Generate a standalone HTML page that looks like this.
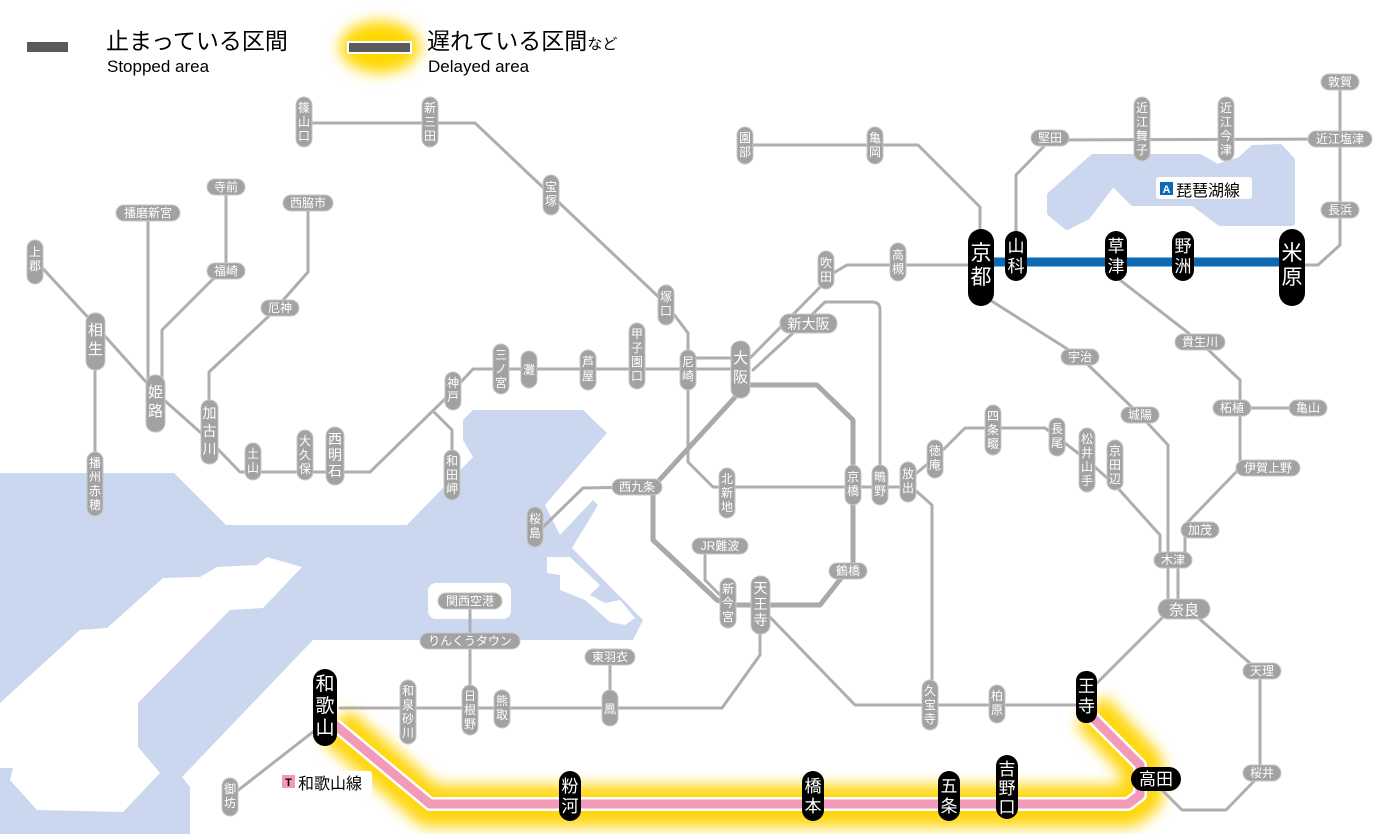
<!DOCTYPE html>
<html><head><meta charset="utf-8"><style>
html,body{margin:0;padding:0;background:#fff;}
svg{display:block;font-family:"Liberation Sans","Noto Sans CJK JP",sans-serif;}
.l{fill:none;stroke:#b0acb0;stroke-width:3;stroke-linejoin:round;stroke-linecap:round}
.lt{fill:none;stroke:#aaa8ac;stroke-width:5;stroke-linejoin:round}
.p{fill:#a2a2a2;stroke:#c8c8c8;stroke-width:1}
.t{fill:#fff;font-size:12px;text-anchor:middle}
.tb{fill:#fff;font-size:15px;text-anchor:middle}
.k{fill:#000}
.kt{fill:#fff;font-size:19px;text-anchor:middle}
</style></head><body>
<svg width="1400" height="834" viewBox="0 0 1400 834" xmlns="http://www.w3.org/2000/svg">
<defs>
<filter id="bl" x="-20%" y="-50%" width="140%" height="200%"><feGaussianBlur stdDeviation="7"/></filter>
<filter id="bl2" x="-100%" y="-100%" width="300%" height="300%"><feGaussianBlur stdDeviation="7"/></filter>
</defs>
<!-- water -->
<path fill="#cbd7ee" d="M0,473 L174,473 L226,525 L407,525 L473,457 L463,440 L463,420 L473,410 L583,410 L607,433 L545,505 L560,535 L593,500 L598,505 L572,548 L643,620 L633,640 L313,640 L182,777 L190,787 L190,834 L0,834 Z"/>
<path fill="#cbd7ee" d="M1050,213 L1050,195 L1093,157 L1200,157 L1217,167 L1240,160 L1253,148 L1280,147 L1292,160 L1292,223 L1220,223 L1193,203 L1133,203 L1113,183 L1087,217 L1067,227 Z" stroke="#cbd7ee" stroke-width="6" stroke-linejoin="round"/>
<!-- awaji -->
<path fill="#fff" d="M302,567 L267,557 L257,565 L217,567 L200,577 L163,578 L107,628 L80,630 L0,703 L0,768 L13,768 L10,780 L37,810 L123,812 L160,773 L138,747 L138,703 L230,610 L263,608 Z"/>
<!-- islands -->
<rect x="428" y="583" width="83" height="36" rx="8" fill="#fff"/>
<path fill="#fff" d="M547,557 L570,557 L600,585 L590,595 L605,603 L620,600 L635,618 L625,625 L610,622 L585,600 L560,590 L560,575 L547,573 Z"/>

<!-- legend -->
<rect x="27" y="42" width="41" height="10" fill="#5a5a5a"/>
<text x="106" y="49" font-size="23" fill="#000">止まっている区間</text>
<text x="107" y="72" font-size="17" fill="#000">Stopped area</text>
<ellipse cx="380" cy="47" rx="40" ry="26" fill="#ffd800" filter="url(#bl2)"/>
<rect x="347" y="41" width="65" height="13" fill="#fff"/>
<rect x="349" y="43" width="61" height="9" fill="#5a5a5a"/>
<text x="427" y="49" font-size="23" fill="#000">遅れている区間<tspan font-size="15">など</tspan></text>
<text x="428" y="72" font-size="17" fill="#000">Delayed area</text>

<!-- glows -->
<path d="M966,262 L1306,262" stroke="#ffd400" stroke-width="42" fill="none" filter="url(#bl)" opacity="0.95"/>
<path d="M1090,710 L1142,765 L1142,795 L1128,806 L430,806 L335,725" stroke="#ffd400" stroke-width="42" fill="none" stroke-linejoin="round" filter="url(#bl)" opacity="0.95"/>

<!-- lines -->
<path class="l" d="M35,260 L95,325 L155,392 L209,440 L240,472 L370,472 L447,397 L473,369 L740,369"/>
<path class="l" d="M688,358 L740,358"/>
<path class="l" d="M95,340 L95,480"/>
<path class="l" d="M148,213 L148,400"/>
<path class="l" d="M162,395 L162,330 L212,280 L226,271 L226,187"/>
<path class="l" d="M209,420 L209,372 L270,315 L308,272 L308,203"/>
<path class="l" d="M434,412 L452,430 L452,470"/>
<path class="l" d="M304,123 L475,123 L551,195 L666,304 L688,333 L688,462 L713,487 L908,487"/>
<path class="l" d="M750,358 L835,272 L847,265 L981,265"/>
<path class="l" d="M753,370 L793,333 L825,302 L872,302 Q880,302 880,310 L880,487"/>
<path class="lt" d="M740,385 L817,385 L853,420 L853,563 L820,605 L730,605 L717,600 L653,540 L653,487 L737,395"/>
<path class="l" d="M637,487 L583,488 L540,530"/>
<path class="l" d="M705,546 L705,580 L728,603"/>
<path class="l" d="M760,620 L760,655 L722,708 L340,708"/>
<path class="l" d="M470,601 L470,708"/>
<path class="l" d="M610,657 L610,708"/>
<path class="l" d="M765,612 L855,705 L1085,705"/>
<path class="l" d="M1090,690 L1168,612"/>
<path class="l" d="M915,490 L932,505 L932,705"/>
<path class="l" d="M908,480 L935,458 L965,428 L1045,428 L1057,437 L1087,460 L1115,485 L1160,535 L1160,560"/>
<path class="l" d="M990,300 L1080,357 L1140,415 L1168,445 L1168,609"/>
<path class="l" d="M1178,560 L1178,609"/>
<path class="l" d="M1120,280 L1200,342 L1240,380 L1240,468 L1185,525 L1185,560"/>
<path class="l" d="M1232,408 L1308,408"/>
<path class="l" d="M1016,240 L1016,175 L1050,140 L1340,139"/>
<path class="l" d="M1340,82 L1340,245 L1318,265 L1295,265"/>
<path class="l" d="M745,145 L918,145 L980,207 L980,230"/>
<path class="l" d="M1195,615 L1260,672 L1260,775 L1226,810 L1182,810 L1160,788"/>
<path class="l" d="M318,728 L232,795"/>

<!-- biwako line -->
<path d="M981,262 L1292,262" stroke="#fff" stroke-width="14" fill="none"/>
<path d="M981,262 L1292,262" stroke="#0a6ab6" stroke-width="9" fill="none"/>
<!-- wakayama line -->
<path d="M1090,715 L1140,765 L1140,795 L1128,804 L430,804 L335,725" stroke="#fff" stroke-width="14" fill="none" stroke-linejoin="round"/>
<path d="M1090,715 L1140,765 L1140,795 L1128,804 L430,804 L335,725" stroke="#f29ab8" stroke-width="9" fill="none" stroke-linejoin="round"/>

<!-- line labels -->
<rect x="1156" y="177" width="96" height="22" rx="3" fill="#fff"/>
<rect x="1160" y="182" width="13" height="13" fill="#0a6ab6"/>
<text x="1166.5" y="193" font-size="11" fill="#fff" text-anchor="middle" font-weight="bold">A</text>
<text x="1176" y="196" font-size="16" fill="#000">琵琶湖線</text>
<rect x="278" y="771" width="94" height="22" rx="3" fill="#fff"/>
<rect x="282" y="775" width="13" height="13" fill="#f29ab8"/>
<text x="288.5" y="786" font-size="11" fill="#000" text-anchor="middle" font-weight="bold">T</text>
<text x="298" y="789" font-size="16" fill="#000">和歌山線</text>

<!-- small vertical stations -->
<g>
<rect class="p" x="27" y="240" width="16" height="44" rx="8"/><text class="t" x="35"><tspan x="35" y="256">上</tspan><tspan x="35" y="270">郡</tspan></text>
<rect class="p" x="87" y="452" width="16" height="64" rx="8"/><text class="t"><tspan x="95" y="467">播</tspan><tspan x="95" y="481">州</tspan><tspan x="95" y="495">赤</tspan><tspan x="95" y="509">穂</tspan></text>
<rect class="p" x="296" y="97" width="16" height="50" rx="8"/><text class="t"><tspan x="304" y="112">篠</tspan><tspan x="304" y="126">山</tspan><tspan x="304" y="140">口</tspan></text>
<rect class="p" x="422" y="97" width="16" height="50" rx="8"/><text class="t"><tspan x="430" y="112">新</tspan><tspan x="430" y="126">三</tspan><tspan x="430" y="140">田</tspan></text>
<rect class="p" x="543" y="175" width="16" height="40" rx="8"/><text class="t"><tspan x="551" y="191">宝</tspan><tspan x="551" y="205">塚</tspan></text>
<rect class="p" x="658" y="285" width="16" height="40" rx="8"/><text class="t"><tspan x="666" y="301">塚</tspan><tspan x="666" y="315">口</tspan></text>
<rect class="p" x="629" y="323" width="16" height="66" rx="8"/><text class="t"><tspan x="637" y="338">甲</tspan><tspan x="637" y="352">子</tspan><tspan x="637" y="366">園</tspan><tspan x="637" y="380">口</tspan></text>
<rect class="p" x="580" y="350" width="16" height="40" rx="8"/><text class="t"><tspan x="588" y="366">芦</tspan><tspan x="588" y="380">屋</tspan></text>
<rect class="p" x="521" y="351" width="16" height="37" rx="8"/><text class="t"><tspan x="529" y="374">灘</tspan></text>
<rect class="p" x="493" y="344" width="16" height="50" rx="8"/><text class="t"><tspan x="501" y="359">三</tspan><tspan x="501" y="373">ノ</tspan><tspan x="501" y="387">宮</tspan></text>
<rect class="p" x="680" y="350" width="16" height="40" rx="8"/><text class="t"><tspan x="688" y="366">尼</tspan><tspan x="688" y="380">崎</tspan></text>
<rect class="p" x="445" y="372" width="16" height="38" rx="8"/><text class="t"><tspan x="453" y="387">神</tspan><tspan x="453" y="401">戸</tspan></text>
<rect class="p" x="444" y="450" width="16" height="50" rx="8"/><text class="t"><tspan x="452" y="465">和</tspan><tspan x="452" y="479">田</tspan><tspan x="452" y="493">岬</tspan></text>
<rect class="p" x="245" y="443" width="16" height="37" rx="8"/><text class="t"><tspan x="253" y="458">土</tspan><tspan x="253" y="472">山</tspan></text>
<rect class="p" x="297" y="430" width="16" height="50" rx="8"/><text class="t"><tspan x="305" y="445">大</tspan><tspan x="305" y="459">久</tspan><tspan x="305" y="473">保</tspan></text>
<rect class="p" x="326" y="427" width="18" height="58" rx="9"/><text class="t" style="font-size:14px"><tspan x="335" y="444">西</tspan><tspan x="335" y="460">明</tspan><tspan x="335" y="476">石</tspan></text>
<rect class="p" x="201" y="400" width="17" height="64" rx="8"/><text class="t" style="font-size:14px"><tspan x="209.5" y="418">加</tspan><tspan x="209.5" y="436">古</tspan><tspan x="209.5" y="454">川</tspan></text>
<rect class="p" x="818" y="251" width="16" height="38" rx="8"/><text class="t"><tspan x="826" y="267">吹</tspan><tspan x="826" y="281">田</tspan></text>
<rect class="p" x="890" y="243" width="16" height="38" rx="8"/><text class="t"><tspan x="898" y="259">高</tspan><tspan x="898" y="273">槻</tspan></text>
<rect class="p" x="737" y="127" width="16" height="37" rx="8"/><text class="t"><tspan x="745" y="142">園</tspan><tspan x="745" y="156">部</tspan></text>
<rect class="p" x="867" y="127" width="16" height="37" rx="8"/><text class="t"><tspan x="875" y="142">亀</tspan><tspan x="875" y="156">岡</tspan></text>
<rect class="p" x="1134" y="97" width="16" height="64" rx="8"/><text class="t"><tspan x="1142" y="112">近</tspan><tspan x="1142" y="126">江</tspan><tspan x="1142" y="140">舞</tspan><tspan x="1142" y="154">子</tspan></text>
<rect class="p" x="1218" y="97" width="16" height="64" rx="8"/><text class="t"><tspan x="1226" y="112">近</tspan><tspan x="1226" y="126">江</tspan><tspan x="1226" y="140">今</tspan><tspan x="1226" y="154">津</tspan></text>
<rect class="p" x="719" y="468" width="16" height="50" rx="8"/><text class="t"><tspan x="727" y="483">北</tspan><tspan x="727" y="497">新</tspan><tspan x="727" y="511">地</tspan></text>
<rect class="p" x="845" y="465" width="16" height="40" rx="8"/><text class="t"><tspan x="853" y="481">京</tspan><tspan x="853" y="495">橋</tspan></text>
<rect class="p" x="872" y="465" width="16" height="40" rx="8"/><text class="t"><tspan x="880" y="481">鴫</tspan><tspan x="880" y="495">野</tspan></text>
<rect class="p" x="900" y="462" width="16" height="40" rx="8"/><text class="t"><tspan x="908" y="478">放</tspan><tspan x="908" y="492">出</tspan></text>
<rect class="p" x="927" y="440" width="16" height="38" rx="8"/><text class="t"><tspan x="935" y="455">徳</tspan><tspan x="935" y="469">庵</tspan></text>
<rect class="p" x="985" y="405" width="16" height="50" rx="8"/><text class="t"><tspan x="993" y="420">四</tspan><tspan x="993" y="434">条</tspan><tspan x="993" y="448">畷</tspan></text>
<rect class="p" x="1049" y="418" width="16" height="38" rx="8"/><text class="t"><tspan x="1057" y="433">長</tspan><tspan x="1057" y="447">尾</tspan></text>
<rect class="p" x="1079" y="428" width="16" height="64" rx="8"/><text class="t"><tspan x="1087" y="443">松</tspan><tspan x="1087" y="457">井</tspan><tspan x="1087" y="471">山</tspan><tspan x="1087" y="485">手</tspan></text>
<rect class="p" x="1107" y="440" width="16" height="50" rx="8"/><text class="t"><tspan x="1115" y="455">京</tspan><tspan x="1115" y="469">田</tspan><tspan x="1115" y="483">辺</tspan></text>
<rect class="p" x="527" y="507" width="16" height="40" rx="8"/><text class="t"><tspan x="535" y="523">桜</tspan><tspan x="535" y="537">島</tspan></text>
<rect class="p" x="720" y="578" width="16" height="50" rx="8"/><text class="t"><tspan x="728" y="593">新</tspan><tspan x="728" y="607">今</tspan><tspan x="728" y="621">宮</tspan></text>
<rect class="p" x="751" y="576" width="19" height="58" rx="9"/><text class="t" style="font-size:14px"><tspan x="760.5" y="593">天</tspan><tspan x="760.5" y="609">王</tspan><tspan x="760.5" y="625">寺</tspan></text>
<rect class="p" x="922" y="680" width="16" height="50" rx="8"/><text class="t"><tspan x="930" y="695">久</tspan><tspan x="930" y="709">宝</tspan><tspan x="930" y="723">寺</tspan></text>
<rect class="p" x="989" y="685" width="16" height="38" rx="8"/><text class="t"><tspan x="997" y="700">柏</tspan><tspan x="997" y="714">原</tspan></text>
<rect class="p" x="400" y="680" width="16" height="64" rx="8"/><text class="t"><tspan x="408" y="695">和</tspan><tspan x="408" y="709">泉</tspan><tspan x="408" y="723">砂</tspan><tspan x="408" y="737">川</tspan></text>
<rect class="p" x="462" y="685" width="16" height="50" rx="8"/><text class="t"><tspan x="470" y="700">日</tspan><tspan x="470" y="714">根</tspan><tspan x="470" y="728">野</tspan></text>
<rect class="p" x="494" y="690" width="16" height="38" rx="8"/><text class="t"><tspan x="502" y="705">熊</tspan><tspan x="502" y="719">取</tspan></text>
<rect class="p" x="602" y="690" width="16" height="36" rx="8"/><text class="t"><tspan x="610" y="713">鳳</tspan></text>
<rect class="p" x="222" y="778" width="16" height="38" rx="8"/><text class="t"><tspan x="230" y="793">御</tspan><tspan x="230" y="807">坊</tspan></text>
</g>

<!-- horizontal stations -->
<g>
<rect class="p" x="116" y="205" width="64" height="16" rx="8"/><text class="t" x="148" y="217">播磨新宮</text>
<rect class="p" x="207" y="179" width="38" height="16" rx="8"/><text class="t" x="226" y="191">寺前</text>
<rect class="p" x="207" y="263" width="38" height="16" rx="8"/><text class="t" x="226" y="275">福崎</text>
<rect class="p" x="283" y="195" width="50" height="16" rx="8"/><text class="t" x="308" y="207">西脇市</text>
<rect class="p" x="261" y="300" width="38" height="16" rx="8"/><text class="t" x="280" y="312">厄神</text>
<rect class="p" x="780" y="314" width="57" height="19" rx="9"/><text class="t" style="font-size:14px" x="808.5" y="329">新大阪</text>
<rect class="p" x="612" y="479" width="50" height="16" rx="8"/><text class="t" x="637" y="491">西九条</text>
<rect class="p" x="692" y="538" width="56" height="16" rx="8"/><text class="t" x="720" y="550">JR難波</text>
<rect class="p" x="829" y="563" width="38" height="16" rx="8"/><text class="t" x="848" y="575">鶴橋</text>
<rect class="p" x="438" y="593" width="64" height="16" rx="8"/><text class="t" x="470" y="605">関西空港</text>
<rect class="p" x="420" y="633" width="100" height="16" rx="8"/><text class="t" x="470" y="645">りんくうタウン</text>
<rect class="p" x="585" y="649" width="50" height="16" rx="8"/><text class="t" x="610" y="661">東羽衣</text>
<rect class="p" x="1031" y="130" width="38" height="16" rx="8"/><text class="t" x="1050" y="142">堅田</text>
<rect class="p" x="1321" y="74" width="38" height="16" rx="8"/><text class="t" x="1340" y="86">敦賀</text>
<rect class="p" x="1308" y="131" width="64" height="16" rx="8"/><text class="t" x="1340" y="143">近江塩津</text>
<rect class="p" x="1321" y="202" width="38" height="16" rx="8"/><text class="t" x="1340" y="214">長浜</text>
<rect class="p" x="1061" y="349" width="38" height="16" rx="8"/><text class="t" x="1080" y="361">宇治</text>
<rect class="p" x="1175" y="334" width="50" height="16" rx="8"/><text class="t" x="1200" y="346">貴生川</text>
<rect class="p" x="1121" y="407" width="38" height="16" rx="8"/><text class="t" x="1140" y="419">城陽</text>
<rect class="p" x="1213" y="400" width="38" height="16" rx="8"/><text class="t" x="1232" y="412">柘植</text>
<rect class="p" x="1289" y="400" width="38" height="16" rx="8"/><text class="t" x="1308" y="412">亀山</text>
<rect class="p" x="1236" y="460" width="64" height="16" rx="8"/><text class="t" x="1268" y="472">伊賀上野</text>
<rect class="p" x="1181" y="522" width="38" height="16" rx="8"/><text class="t" x="1200" y="534">加茂</text>
<rect class="p" x="1154" y="552" width="38" height="16" rx="8"/><text class="t" x="1173" y="564">木津</text>
<rect class="p" x="1158" y="599" width="52" height="20" rx="10"/><text class="t" style="font-size:15px" x="1184" y="615">奈良</text>
<rect class="p" x="1243" y="663" width="38" height="16" rx="8"/><text class="t" x="1262" y="675">天理</text>
<rect class="p" x="1243" y="765" width="38" height="16" rx="8"/><text class="t" x="1262" y="777">桜井</text>
</g>

<!-- big gray -->
<rect class="p" x="86" y="313" width="19" height="57" rx="9"/><text class="tb"><tspan x="95.5" y="335">相</tspan><tspan x="95.5" y="354">生</tspan></text>
<rect class="p" x="146" y="375" width="19" height="57" rx="9"/><text class="tb"><tspan x="155.5" y="397">姫</tspan><tspan x="155.5" y="416">路</tspan></text>
<rect class="p" x="731" y="341" width="19" height="57" rx="9"/><text class="tb"><tspan x="740.5" y="363">大</tspan><tspan x="740.5" y="382">阪</tspan></text>

<!-- black stations -->
<rect class="k" x="968" y="229" width="26" height="77" rx="13"/><text class="kt" style="font-size:21px"><tspan x="981" y="260">京</tspan><tspan x="981" y="284">都</tspan></text>
<rect class="k" x="1005" y="231" width="22" height="50" rx="11"/><text class="kt" style="font-size:17px"><tspan x="1016" y="252">山</tspan><tspan x="1016" y="272">科</tspan></text>
<rect class="k" x="1105" y="231" width="22" height="50" rx="11"/><text class="kt" style="font-size:17px"><tspan x="1116" y="252">草</tspan><tspan x="1116" y="272">津</tspan></text>
<rect class="k" x="1172" y="231" width="22" height="50" rx="11"/><text class="kt" style="font-size:17px"><tspan x="1183" y="252">野</tspan><tspan x="1183" y="272">洲</tspan></text>
<rect class="k" x="1279" y="229" width="26" height="77" rx="13"/><text class="kt" style="font-size:21px"><tspan x="1292" y="260">米</tspan><tspan x="1292" y="284">原</tspan></text>
<rect class="k" x="1076" y="671" width="21" height="52" rx="10"/><text class="kt" style="font-size:17px"><tspan x="1086.5" y="692">王</tspan><tspan x="1086.5" y="712">寺</tspan></text>
<rect class="k" x="1131" y="767" width="50" height="24" rx="12"/><text class="kt" style="font-size:17px" x="1156" y="785">高田</text>
<rect class="k" x="996" y="755" width="22" height="64" rx="11"/><text class="kt" style="font-size:17px"><tspan x="1007" y="775">吉</tspan><tspan x="1007" y="794">野</tspan><tspan x="1007" y="813">口</tspan></text>
<rect class="k" x="938" y="771" width="22" height="50" rx="11"/><text class="kt" style="font-size:17px"><tspan x="949" y="792">五</tspan><tspan x="949" y="812">条</tspan></text>
<rect class="k" x="802" y="771" width="22" height="50" rx="11"/><text class="kt" style="font-size:17px"><tspan x="813" y="792">橋</tspan><tspan x="813" y="812">本</tspan></text>
<rect class="k" x="559" y="771" width="22" height="50" rx="11"/><text class="kt" style="font-size:17px"><tspan x="570" y="792">粉</tspan><tspan x="570" y="812">河</tspan></text>
<rect class="k" x="313" y="669" width="24" height="77" rx="12"/><text class="kt" style="font-size:19px"><tspan x="325" y="690">和</tspan><tspan x="325" y="712">歌</tspan><tspan x="325" y="734">山</tspan></text>
</svg>
</body></html>
